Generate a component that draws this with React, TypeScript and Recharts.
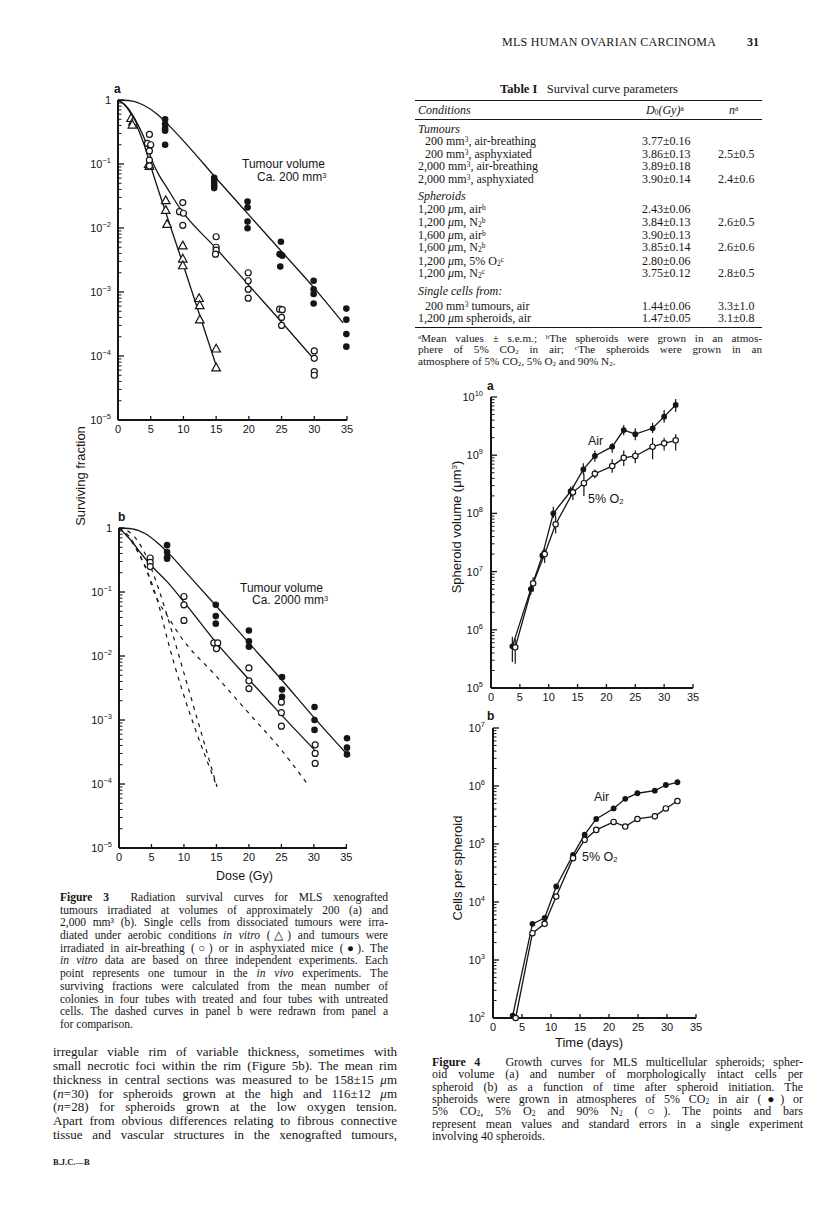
import React from 'react';
import { ComposedChart, ErrorBar, Line, Scatter, XAxis, YAxis } from 'recharts';

type Pt = [number, number];

// ---------- Figure 3a: 200 mm3 tumours (dose in Gy, surviving fraction) ----------
const fig3aInVitro: Pt[] = [
  [2.0, 0.52], [2.3, 0.46], [2.2, 0.41], [4.7, 0.1], [4.8, 0.093],
  [7.3, 0.027], [7.3, 0.019], [7.5, 0.0115], [9.9, 0.0053], [9.9, 0.0033], [9.9, 0.0026],
  [12.4, 0.0008], [12.5, 0.00062], [12.5, 0.00037], [15, 0.00013], [15, 0.000066],
];
const fig3aAir: Pt[] = [
  [4.8, 0.29], [4.5, 0.21], [5.0, 0.2], [4.8, 0.16], [4.8, 0.115], [4.8, 0.093],
  [9.9, 0.025], [9.4, 0.018], [10, 0.017], [9.9, 0.011],
  [15, 0.0073], [15, 0.005], [15, 0.0045], [14.9, 0.0039],
  [19.9, 0.002], [19.9, 0.0015], [19.9, 0.0011], [19.9, 0.0008],
  [24.7, 0.00054], [25.1, 0.00053], [25, 0.0004], [25, 0.0003],
  [30, 0.00012], [30, 0.000092], [30, 0.000057], [30, 0.00005],
];
const fig3aAsphyx: Pt[] = [
  [7.2, 0.5], [7.2, 0.42], [7.2, 0.36], [7.2, 0.33], [7.2, 0.2],
  [14.7, 0.061], [14.7, 0.057], [14.7, 0.051], [14.7, 0.046], [14.7, 0.042],
  [19.8, 0.026], [19.8, 0.021], [19.8, 0.0126], [19.8, 0.0099],
  [24.9, 0.0061], [24.7, 0.0039], [25.1, 0.0037], [24.8, 0.0025],
  [29.9, 0.0015], [29.9, 0.0011], [29.9, 0.00093], [29.9, 0.00066],
  [34.9, 0.00055], [34.9, 0.00037], [34.9, 0.00022], [34.9, 0.00014],
];
const fig3aInVitroCurve: Pt[] = [
  [0, 1], [1, 0.85], [2, 0.6], [3, 0.37], [4, 0.2], [4.9, 0.1], [10, 0.0026], [15.1, 0.000066],
];
const fig3aAirCurve: Pt[] = [
  [0, 1], [1.5, 0.75], [3, 0.42], [4.4, 0.2], [5.1, 0.12], [6.1, 0.072], [7.4, 0.044],
  [9.5, 0.02], [15, 0.0048], [20, 0.00127], [25, 0.00034], [29.8, 0.000093],
];
const fig3aAsphyxCurve: Pt[] = [
  [0, 1], [2, 0.97], [4, 0.82], [6, 0.6], [8, 0.38], [10, 0.23], [15, 0.06],
  [20, 0.016], [25, 0.0043], [30, 0.00115], [34.4, 0.00033],
];

// ---------- Figure 3b: 2000 mm3 tumours ----------
const fig3bAir: Pt[] = [
  [4.8, 0.34], [4.8, 0.29], [4.8, 0.25],
  [10, 0.085], [10, 0.063], [10, 0.036],
  [14.6, 0.016], [15.2, 0.016], [15, 0.013],
  [20, 0.0065], [20, 0.0041], [20, 0.0031],
  [25, 0.0019], [25, 0.0013], [25, 0.0008],
  [30.2, 0.00041], [30.2, 0.0003], [30.2, 0.00021],
];
const fig3bAsphyx: Pt[] = [
  [7.4, 0.54], [7.4, 0.42], [7.4, 0.35], [7.4, 0.33],
  [14.9, 0.063], [14.9, 0.042], [14.9, 0.032],
  [20, 0.025], [20, 0.017], [20, 0.014],
  [25.1, 0.0047], [25.1, 0.003], [25.1, 0.0023],
  [30.1, 0.0016], [30.1, 0.001], [30.1, 0.0007],
  [35.1, 0.00052], [35.1, 0.00037], [35.1, 0.00029],
];
const fig3bAirCurve: Pt[] = [
  [0, 1], [1.8, 0.65], [3.4, 0.4], [5.1, 0.25], [7.4, 0.145], [9.9, 0.072],
  [15, 0.016], [20, 0.0043], [25, 0.0012], [30.1, 0.00034],
];
const fig3bAsphyxCurve: Pt[] = [
  [0, 1], [2, 0.97], [4, 0.82], [6, 0.58], [8, 0.37], [10, 0.22], [15, 0.06],
  [20, 0.016], [25, 0.0043], [30, 0.0011], [35, 0.0003],
];
// dashed curves redrawn from panel a
const fig3bDashSteep: Pt[] = [
  [0, 1], [1, 0.8], [2, 0.6], [3, 0.4], [4.25, 0.22], [5.9, 0.075], [7.6, 0.016], [15.1, 0.00009],
];
const fig3bDashMid: Pt[] = [
  [0, 1], [2, 0.8], [4, 0.4], [6, 0.12], [8.1, 0.025], [10, 0.0054], [12.5, 0.00072], [15.1, 0.00009],
];
const fig3bDashAir: Pt[] = [
  [0, 1], [1.5, 0.75], [3, 0.42], [4.4, 0.2], [5.1, 0.12], [6.1, 0.07], [7.4, 0.043],
  [9.5, 0.02], [15, 0.0048], [20, 0.00127], [25, 0.00034], [29, 0.0001],
];

// ---------- Figure 4a: spheroid volume (um3) vs time (days) ----------
const volDaysAir = [3.7, 6.9, 8.9, 10.8, 13.8, 16, 18, 21, 23, 25, 28, 30, 32];
const volAir = [5.2e5, 5e6, 1.9e7, 1e8, 2.4e8, 5.7e8, 9.7e8, 1.4e9, 2.7e9, 2.3e9, 2.9e9, 4.6e9, 7.3e9];
const volAirLo = [2.8e5, 4e6, 1.6e7, 8.3e7, 1.9e8, 4.6e8, 7.7e8, 1.1e9, 2.2e9, 1.8e9, 2.4e9, 3.6e9, 5.5e9];
const volAirHi = [7.6e5, 6.3e6, 2.3e7, 1.3e8, 2.9e8, 7.3e8, 1.2e9, 1.6e9, 3.3e9, 2.9e9, 3.6e9, 6e9, 9.2e9];
const volDaysO2 = [4.2, 7.3, 9.3, 11.2, 14.2, 16.1, 18, 21, 23, 25, 28, 30, 32];
const volO2 = [5e5, 6.3e6, 2e7, 6.5e7, 2.3e8, 3.3e8, 4.8e8, 6.5e8, 9e8, 9.7e8, 1.4e9, 1.6e9, 1.8e9];
const volO2Lo = [2.6e5, 4.5e6, 1.4e7, 4.5e7, 1.7e8, 2e8, 4e8, 5e8, 6.5e8, 7.3e8, 8.5e8, 1.2e9, 1.2e9];
const volO2Hi = [7e5, 8e6, 2.5e7, 9e7, 3e8, 4.8e8, 5.7e8, 8.5e8, 1.2e9, 1.2e9, 2e9, 2e9, 2.3e9];

// ---------- Figure 4b: cells per spheroid vs time (days) ----------
const cellDaysAir = [3.4, 6.8, 8.9, 10.9, 13.8, 15.8, 17.8, 20.8, 22.8, 24.9, 27.9, 29.8, 31.8];
const cellsAir = [110, 4200, 5300, 1.85e4, 6.5e4, 1.45e5, 2.7e5, 4.1e5, 6e5, 7.5e5, 8.3e5, 1.04e6, 1.16e6];
const cellDaysO2 = [3.9, 6.8, 8.9, 10.9, 13.8, 15.8, 17.8, 20.8, 22.8, 24.9, 27.9, 29.8, 31.8];
const cellsO2 = [100, 2900, 4200, 1.24e4, 5.7e4, 1.18e5, 1.75e5, 2.4e5, 2e5, 2.7e5, 3e5, 4.1e5, 5.5e5];

// ---------- axes ----------
const doseTicks = [0, 5, 10, 15, 20, 25, 30, 35];
const dayTicks = [0, 5, 10, 15, 20, 25, 30, 35];
const fig3YTicks = [1e-5, 1e-4, 1e-3, 1e-2, 1e-1, 1];
const fig4aYTicks = [1e5, 1e6, 1e7, 1e8, 1e9, 1e10];
const fig4bYTicks = [1e2, 1e3, 1e4, 1e5, 1e6, 1e7];

const SANS = '"Liberation Sans", Arial, Helvetica, sans-serif';
const SERIF = '"Liberation Serif", "Times New Roman", serif';
const INK = '#151515';
const AXIS = { stroke: INK, strokeWidth: 2 };
const MARGIN = { top: 20, right: 20, bottom: 10, left: 0 };

const withMinors = (majors: number[]) => {
  const out = [...majors];
  for (let i = 0; i < majors.length - 1; i++) {
    for (let m = 2; m <= 9; m++) out.push(majors[i] * m);
  }
  return out;
};

const toXY = (pts: Pt[]) => pts.map(([x, y]) => ({ x, y }));
const rows = (xs: number[], ys: number[], lo?: number[], hi?: number[]) =>
  xs.map((x, i) => ({
    x,
    y: ys[i],
    err: lo && hi ? [ys[i] - lo[i], hi[i] - ys[i]] : undefined,
  }));

// plot rect in page pixels -> chart placement
const frame = (x0: number, y0: number, x1: number, y1: number) => ({
  left: x0 - 60,
  top: y0 - 20,
  width: x1 - x0 + 80,
  height: y1 - y0 + 60,
});

const makeYTick = (gap: number, fs: number) => (props: any) => {
  const { x, y, payload } = props;
  const lg = Math.log10(payload.value);
  const e = Math.round(lg);
  if (Math.abs(lg - e) > 1e-6) {
    return <line x1={x} x2={x + 3.5} y1={y} y2={y} stroke={INK} strokeWidth={1} />;
  }
  return (
    <g>
      <line x1={x} x2={x + 6} y1={y} y2={y} stroke={INK} strokeWidth={1.3} />
      <text x={x - gap} y={y + 4} textAnchor="end" fontSize={fs} fontFamily={SANS} fill={INK}>
        {e === 0 ? '1' : '10'}
        {e !== 0 && (
          <tspan dy={-5} fontSize={fs * 0.68}>
            {e < 0 ? `\u2212${-e}` : e}
          </tspan>
        )}
      </text>
    </g>
  );
};

const XTick = (props: any) => {
  const { x, y, payload } = props;
  return (
    <g>
      {payload.value !== 0 && <line x1={x} x2={x} y1={y} y2={y - 4} stroke={INK} strokeWidth={1.3} />}
      <text x={x} y={y + 13} textAnchor="middle" fontSize={11} fontFamily={SANS} fill={INK}>
        {payload.value}
      </text>
    </g>
  );
};

const filledDot = (r: number) => (p: any) => <circle cx={p.cx} cy={p.cy} r={r} fill={INK} />;
const openDot = (r: number) => (p: any) => (
  <circle cx={p.cx} cy={p.cy} r={r} fill="#fff" stroke={INK} strokeWidth={1.2} />
);
const openTri = (p: any) => (
  <path
    d={`M${p.cx},${p.cy - 4.5}L${p.cx + 4.3},${p.cy + 3.3}L${p.cx - 4.3},${p.cy + 3.3}Z`}
    fill="#fff"
    stroke={INK}
    strokeWidth={1.2}
  />
);

const Txt = ({ x, y, size = 12, family = SERIF, style, children }: any) => (
  <div
    style={{
      position: 'absolute',
      left: x,
      top: y - size * 0.55,
      fontSize: size,
      lineHeight: 1,
      fontFamily: family,
      whiteSpace: 'nowrap',
      color: INK,
      ...style,
    }}
  >
    {children}
  </div>
);

const JLine = ({ x, y, w, size, last, children }: any) => (
  <div
    style={{
      position: 'absolute',
      left: x,
      top: y - size * 0.55,
      width: w,
      fontSize: size,
      lineHeight: 1,
      fontFamily: SERIF,
      whiteSpace: 'nowrap',
      textAlign: 'justify',
      textAlignLast: last ? 'left' : 'justify',
      color: INK,
    }}
  >
    {children}
  </div>
);

const Sup = ({ children }: any) => (
  <sup style={{ fontSize: '0.62em', verticalAlign: '0.42em', lineHeight: 0 }}>{children}</sup>
);
const Sub = ({ children }: any) => (
  <sub style={{ fontSize: '0.62em', verticalAlign: '-0.18em', lineHeight: 0 }}>{children}</sub>
);

const f3a = frame(118, 100, 347, 420);
const f3b = frame(119, 528, 347, 848);
const f4a = frame(491, 397, 693, 688);
const f4b = frame(493, 728, 696, 1018);

const yTick3 = makeYTick(7, 11);
const yTick4 = makeYTick(8, 11);

const lineStyle = { stroke: INK, strokeWidth: 1.3, dot: false, isAnimationActive: false } as const;
const dashStyle = { stroke: INK, strokeWidth: 1.2, strokeDasharray: '4 5', dot: false, isAnimationActive: false } as const;

const fig3Caption = [
  <><b>Figure 3</b>&nbsp; Radiation survival curves for MLS xenografted</>,
  <>tumours irradiated at volumes of approximately 200 (a) and</>,
  <>2,000 mm³ (b). Single cells from dissociated tumours were irra-</>,
  <>diated under aerobic conditions <i>in vitro</i> (△) and tumours were</>,
  <>irradiated in air-breathing (○) or in asphyxiated mice (●). The</>,
  <><i>in vitro</i> data are based on three independent experiments. Each</>,
  <>point represents one tumour in the <i>in vivo</i> experiments. The</>,
  <>surviving fractions were calculated from the mean number of</>,
  <>colonies in four tubes with treated and four tubes with untreated</>,
  <>cells. The dashed curves in panel b were redrawn from panel a</>,
  <>for comparison.</>,
];

const bodyText = [
  <>irregular viable rim of variable thickness, sometimes with</>,
  <>small necrotic foci within the rim (Figure 5b). The mean rim</>,
  <>thickness in central sections was measured to be 158±15 <i>μ</i>m</>,
  <>(<i>n</i>=30) for spheroids grown at the high and 116±12 <i>μ</i>m</>,
  <>(<i>n</i>=28) for spheroids grown at the low oxygen tension.</>,
  <>Apart from obvious differences relating to fibrous connective</>,
  <>tissue and vascular structures in the xenografted tumours,</>,
];

const fig4Caption = [
  <><b>Figure 4</b>&nbsp;&nbsp; Growth curves for MLS multicellular spheroids; spher-</>,
  <>oid volume (a) and number of morphologically intact cells per</>,
  <>spheroid (b) as a function of time after spheroid initiation. The</>,
  <>spheroids were grown in atmospheres of 5% CO<Sub>2</Sub> in air (●) or</>,
  <>5% CO<Sub>2</Sub>, 5% O<Sub>2</Sub> and 90% N<Sub>2</Sub> (○). The points and bars</>,
  <>represent mean values and standard errors in a single experiment</>,
  <>involving 40 spheroids.</>,
];

const tableRows: { y: number; x: number; c: any; d?: string; n?: string }[] = [
  { y: 130, x: 418, c: <i>Tumours</i> },
  { y: 142, x: 425, c: <>200 mm<Sup>3</Sup>, air-breathing</>, d: '3.77±0.16' },
  { y: 154.5, x: 425, c: <>200 mm<Sup>3</Sup>, asphyxiated</>, d: '3.86±0.13', n: '2.5±0.5' },
  { y: 167, x: 418, c: <>2,000 mm<Sup>3</Sup>, air-breathing</>, d: '3.89±0.18' },
  { y: 179.5, x: 418, c: <>2,000 mm<Sup>3</Sup>, asphyxiated</>, d: '3.90±0.14', n: '2.4±0.6' },
  { y: 197, x: 418, c: <i>Spheroids</i> },
  { y: 210, x: 418, c: <>1,200 <i>μ</i>m, air<Sup>b</Sup></>, d: '2.43±0.06' },
  { y: 223, x: 418, c: <>1,200 <i>μ</i>m, N<Sub>2</Sub><Sup>b</Sup></>, d: '3.84±0.13', n: '2.6±0.5' },
  { y: 235.5, x: 418, c: <>1,600 <i>μ</i>m, air<Sup>b</Sup></>, d: '3.90±0.13' },
  { y: 248, x: 418, c: <>1,600 <i>μ</i>m, N<Sub>2</Sub><Sup>b</Sup></>, d: '3.85±0.14', n: '2.6±0.6' },
  { y: 261.5, x: 418, c: <>1,200 <i>μ</i>m, 5% O<Sub>2</Sub><Sup>c</Sup></>, d: '2.80±0.06' },
  { y: 274, x: 418, c: <>1,200 <i>μ</i>m, N<Sub>2</Sub><Sup>c</Sup></>, d: '3.75±0.12', n: '2.8±0.5' },
  { y: 292, x: 418, c: <i>Single cells from:</i> },
  { y: 306.5, x: 425, c: <>200 mm<Sup>3</Sup> tumours, air</>, d: '1.44±0.06', n: '3.3±1.0' },
  { y: 319, x: 418, c: <>1,200 <i>μ</i>m spheroids, air</>, d: '1.47±0.05', n: '3.1±0.8' },
];

const rotLabel = (x: number, y: number): React.CSSProperties => ({
  position: 'absolute',
  left: x,
  top: y,
  transform: 'translate(-50%, -50%) rotate(-90deg)',
  fontSize: 13,
  fontFamily: SANS,
  whiteSpace: 'nowrap',
  color: INK,
  lineHeight: 1,
});

const TS = 12; // table font size

export default function App() {
  return (
    <div
      style={{
        position: 'absolute',
        left: 0,
        top: 0,
        width: 816,
        height: 1207,
        background: '#fff',
        overflow: 'hidden',
      }}
    >
      {/* running head */}
      <Txt x={502} y={43} size={12} style={{ letterSpacing: 0.3 }}>MLS HUMAN OVARIAN CARCINOMA</Txt>
      <Txt x={747} y={43} size={12} style={{ fontWeight: 'bold' }}>31</Txt>

      {/* ---------- Figure 3a ---------- */}
      <div style={{ position: 'absolute', left: f3a.left, top: f3a.top }}>
        <ComposedChart width={f3a.width} height={f3a.height} margin={MARGIN}>
          <XAxis type="number" dataKey="x" domain={[0, 35]} ticks={doseTicks} interval={0} tick={XTick}
            tickLine={false} tickSize={0} tickMargin={0} axisLine={AXIS} height={30} />
          <YAxis type="number" scale="log" domain={[1e-5, 1]} ticks={withMinors(fig3YTicks)} interval={0}
            tick={yTick3} tickLine={false} tickSize={0} tickMargin={0} axisLine={AXIS} width={60} />
          <Line data={toXY(fig3aInVitroCurve)} dataKey="y" type="monotone" {...lineStyle} />
          <Line data={toXY(fig3aAirCurve)} dataKey="y" type="monotone" {...lineStyle} />
          <Line data={toXY(fig3aAsphyxCurve)} dataKey="y" type="monotone" {...lineStyle} />
          <Scatter data={toXY(fig3aInVitro)} dataKey="y" shape={openTri} isAnimationActive={false} />
          <Scatter data={toXY(fig3aAir)} dataKey="y" shape={openDot(3)} isAnimationActive={false} />
          <Scatter data={toXY(fig3aAsphyx)} dataKey="y" shape={filledDot(3.3)} isAnimationActive={false} />
        </ComposedChart>
      </div>
      <Txt x={114} y={90} size={12} family={SANS} style={{ fontWeight: 'bold' }}>a</Txt>
      <Txt x={242} y={165} size={12} family={SANS}>Tumour volume</Txt>
      <Txt x={257} y={178} size={12} family={SANS}>Ca. 200 mm<Sup>3</Sup></Txt>

      {/* ---------- Figure 3b ---------- */}
      <div style={{ position: 'absolute', left: f3b.left, top: f3b.top }}>
        <ComposedChart width={f3b.width} height={f3b.height} margin={MARGIN}>
          <XAxis type="number" dataKey="x" domain={[0, 35]} ticks={doseTicks} interval={0} tick={XTick}
            tickLine={false} tickSize={0} tickMargin={0} axisLine={AXIS} height={30} />
          <YAxis type="number" scale="log" domain={[1e-5, 1]} ticks={withMinors(fig3YTicks)} interval={0}
            tick={yTick3} tickLine={false} tickSize={0} tickMargin={0} axisLine={AXIS} width={60} />
          <Line data={toXY(fig3bDashSteep)} dataKey="y" type="monotone" {...dashStyle} />
          <Line data={toXY(fig3bDashMid)} dataKey="y" type="monotone" {...dashStyle} />
          <Line data={toXY(fig3bDashAir)} dataKey="y" type="monotone" {...dashStyle} />
          <Line data={toXY(fig3bAirCurve)} dataKey="y" type="monotone" {...lineStyle} />
          <Line data={toXY(fig3bAsphyxCurve)} dataKey="y" type="monotone" {...lineStyle} />
          <Scatter data={toXY(fig3bAir)} dataKey="y" shape={openDot(3)} isAnimationActive={false} />
          <Scatter data={toXY(fig3bAsphyx)} dataKey="y" shape={filledDot(3.3)} isAnimationActive={false} />
        </ComposedChart>
      </div>
      <Txt x={118} y={518} size={12} family={SANS} style={{ fontWeight: 'bold' }}>b</Txt>
      <Txt x={240} y={589} size={12} family={SANS}>Tumour volume</Txt>
      <Txt x={252} y={601} size={12} family={SANS}>Ca. 2000 mm<Sup>3</Sup></Txt>
      <Txt x={216} y={877} size={12.5} family={SANS}>Dose (Gy)</Txt>
      <div style={rotLabel(80, 476)}>Surviving fraction</div>

      {/* ---------- Figure 3 caption & body text ---------- */}
      {fig3Caption.map((ln, i) => (
        <JLine key={`c3-${i}`} x={60} y={898.3 + i * 12.7} w={328} size={11.5} last={i === fig3Caption.length - 1}>
          {ln}
        </JLine>
      ))}
      {bodyText.map((ln, i) => (
        <JLine key={`b-${i}`} x={53} y={1052 + i * 13.9} w={344} size={13}>
          {ln}
        </JLine>
      ))}
      <Txt x={53} y={1163} size={8.5} style={{ fontWeight: 'bold' }}>B.J.C.—B</Txt>

      {/* ---------- Table I ---------- */}
      <Txt x={500} y={90} size={12.5}><b>Table I</b>&nbsp;&nbsp; Survival curve parameters</Txt>
      <div style={{ position: 'absolute', left: 415, top: 100, width: 347, height: 0, borderTop: `1px solid ${INK}` }} />
      <Txt x={418} y={111} size={TS}><i>Conditions</i></Txt>
      <Txt x={646} y={111} size={TS}><i>D</i><Sub>0</Sub><i>(Gy)</i><Sup>a</Sup></Txt>
      <Txt x={729} y={111} size={TS}><i>n</i><Sup>a</Sup></Txt>
      <div style={{ position: 'absolute', left: 415, top: 119, width: 347, height: 0, borderTop: `1px solid ${INK}` }} />
      {tableRows.map((r, i) => (
        <React.Fragment key={`t-${i}`}>
          <Txt x={r.x} y={r.y} size={TS}>{r.c}</Txt>
          {r.d && <Txt x={642} y={r.y} size={TS}>{r.d}</Txt>}
          {r.n && <Txt x={718} y={r.y} size={TS}>{r.n}</Txt>}
        </React.Fragment>
      ))}
      <div style={{ position: 'absolute', left: 415, top: 327, width: 347, height: 0, borderTop: `1px solid ${INK}` }} />
      <JLine x={418} y={339} w={344} size={11.2}>
        <Sup>a</Sup>Mean values ± s.e.m.; <Sup>b</Sup>The spheroids were grown in an atmos-
      </JLine>
      <JLine x={418} y={350.5} w={344} size={11.2}>
        phere of 5% CO<Sub>2</Sub> in air; <Sup>c</Sup>The spheroids were grown in an
      </JLine>
      <JLine x={418} y={362} w={344} size={11.2} last>
        atmosphere of 5% CO<Sub>2</Sub>, 5% O<Sub>2</Sub> and 90% N<Sub>2</Sub>.
      </JLine>

      {/* ---------- Figure 4a ---------- */}
      <div style={{ position: 'absolute', left: f4a.left, top: f4a.top }}>
        <ComposedChart width={f4a.width} height={f4a.height} margin={MARGIN}>
          <XAxis type="number" dataKey="x" domain={[0, 35]} ticks={dayTicks} interval={0} tick={XTick}
            tickLine={false} tickSize={0} tickMargin={0} axisLine={AXIS} height={30} />
          <YAxis type="number" scale="log" domain={[1e5, 1e10]} ticks={withMinors(fig4aYTicks)} interval={0}
            tick={yTick4} tickLine={false} tickSize={0} tickMargin={0} axisLine={AXIS} width={60} />
          <Line data={rows(volDaysAir, volAir, volAirLo, volAirHi)} dataKey="y" type="linear" {...lineStyle}>
            <ErrorBar dataKey="err" direction="y" width={0} stroke={INK} strokeWidth={1.2} />
          </Line>
          <Line data={rows(volDaysO2, volO2, volO2Lo, volO2Hi)} dataKey="y" type="linear" {...lineStyle}>
            <ErrorBar dataKey="err" direction="y" width={0} stroke={INK} strokeWidth={1.2} />
          </Line>
          <Scatter data={rows(volDaysAir, volAir)} dataKey="y" shape={filledDot(2.9)} isAnimationActive={false} />
          <Scatter data={rows(volDaysO2, volO2)} dataKey="y" shape={openDot(2.7)} isAnimationActive={false} />
        </ComposedChart>
      </div>
      <Txt x={487} y={387} size={12} family={SANS} style={{ fontWeight: 'bold' }}>a</Txt>
      <Txt x={588} y={442} size={12.5} family={SANS}>Air</Txt>
      <Txt x={588} y={500} size={12.5} family={SANS}>5% O<Sub>2</Sub></Txt>
      <div style={rotLabel(456, 527)}>Spheroid volume (μm<Sup>3</Sup>)</div>

      {/* ---------- Figure 4b ---------- */}
      <div style={{ position: 'absolute', left: f4b.left, top: f4b.top }}>
        <ComposedChart width={f4b.width} height={f4b.height} margin={MARGIN}>
          <XAxis type="number" dataKey="x" domain={[0, 35]} ticks={dayTicks} interval={0} tick={XTick}
            tickLine={false} tickSize={0} tickMargin={0} axisLine={AXIS} height={30} />
          <YAxis type="number" scale="log" domain={[1e2, 1e7]} ticks={withMinors(fig4bYTicks)} interval={0}
            tick={yTick4} tickLine={false} tickSize={0} tickMargin={0} axisLine={AXIS} width={60} />
          <Line data={rows(cellDaysAir, cellsAir)} dataKey="y" type="linear" {...lineStyle} />
          <Line data={rows(cellDaysO2, cellsO2)} dataKey="y" type="linear" {...lineStyle} />
          <Scatter data={rows(cellDaysAir, cellsAir)} dataKey="y" shape={filledDot(2.9)} isAnimationActive={false} />
          <Scatter data={rows(cellDaysO2, cellsO2)} dataKey="y" shape={openDot(2.7)} isAnimationActive={false} />
        </ComposedChart>
      </div>
      <Txt x={487} y={717} size={12} family={SANS} style={{ fontWeight: 'bold' }}>b</Txt>
      <Txt x={594} y={798} size={12.5} family={SANS}>Air</Txt>
      <Txt x={582} y={858} size={12.5} family={SANS}>5% O<Sub>2</Sub></Txt>
      <div style={rotLabel(457, 868)}>Cells per spheroid</div>
      <Txt x={555} y={1043} size={13} family={SANS}>Time (days)</Txt>

      {fig4Caption.map((ln, i) => (
        <JLine key={`c4-${i}`} x={432} y={1062.3 + i * 12.4} w={371} size={12} last={i === fig4Caption.length - 1}>
          {ln}
        </JLine>
      ))}
    </div>
  );
}
